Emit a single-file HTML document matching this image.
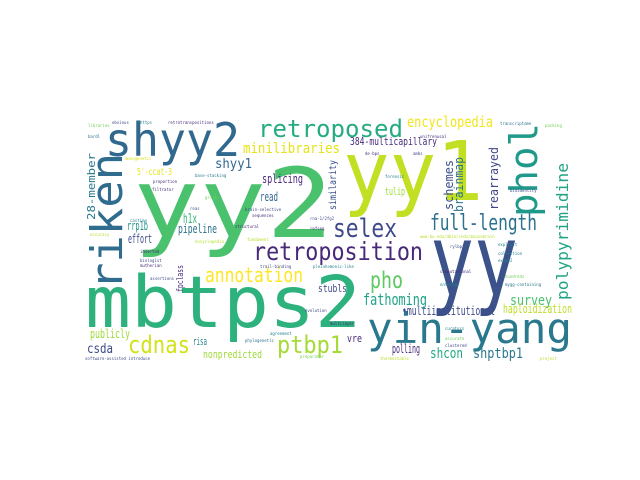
<!DOCTYPE html>
<html><head><meta charset="utf-8"><style>
html,body{margin:0;padding:0;background:#fff;width:640px;height:480px;overflow:hidden}
svg{display:block}
text{font-family:"DejaVu Sans Mono","Liberation Mono",monospace}
</style></head><body>
<svg width="640" height="480" viewBox="0 0 640 480" xmlns="http://www.w3.org/2000/svg">
<rect width="640" height="480" fill="#fff"/>
<g>
<text x="133" y="237" font-size="96" fill="#4ac16d" textLength="200" lengthAdjust="spacingAndGlyphs">yy2</text>
<text x="343" y="200" font-size="82" fill="#c2df23" textLength="140" lengthAdjust="spacingAndGlyphs">yy1</text>
<text x="430" y="295" font-size="100" fill="#3b528b" textLength="88" lengthAdjust="spacingAndGlyphs">yy</text>
<text x="85" y="327" font-size="71" fill="#2db27d" textLength="276" lengthAdjust="spacingAndGlyphs">mbtps2</text>
<text x="367" y="343" font-size="42" fill="#2a788e" textLength="205" lengthAdjust="spacingAndGlyphs">yin-yang</text>
<text x="105" y="156" font-size="46" fill="#31688e" textLength="135" lengthAdjust="spacingAndGlyphs">shyy2</text>
<text transform="translate(122,290) rotate(-90)" font-size="44" fill="#2f6c8e" textLength="137" lengthAdjust="spacingAndGlyphs">riken</text>
<text x="258" y="137" font-size="24" fill="#25ab82" textLength="145" lengthAdjust="spacingAndGlyphs">retroposed</text>
<text transform="translate(537,217) rotate(-90)" font-size="38" fill="#1f9a8a" textLength="94" lengthAdjust="spacingAndGlyphs">phol</text>
<text x="253" y="260" font-size="25" fill="#482878" textLength="170" lengthAdjust="spacingAndGlyphs">retroposition</text>
<text x="333" y="237" font-size="26" fill="#3e4a89" textLength="64" lengthAdjust="spacingAndGlyphs">selex</text>
<text x="430" y="230" font-size="22" fill="#2c728e" textLength="107" lengthAdjust="spacingAndGlyphs">full-length</text>
<text x="370" y="288" font-size="23" fill="#5ec962" textLength="33" lengthAdjust="spacingAndGlyphs">pho</text>
<text x="205" y="282" font-size="20" fill="#fde725" textLength="98" lengthAdjust="spacingAndGlyphs">annotation</text>
<text x="128" y="353" font-size="24" fill="#d2e21b" textLength="62" lengthAdjust="spacingAndGlyphs">cdnas</text>
<text x="277" y="353" font-size="24" fill="#a5db36" textLength="66" lengthAdjust="spacingAndGlyphs">ptbp1</text>
<text transform="translate(568,300) rotate(-90)" font-size="16" fill="#20a486" textLength="137" lengthAdjust="spacingAndGlyphs">polypyrimidine</text>
<text x="407" y="127" font-size="15" fill="#f1e51d" textLength="86" lengthAdjust="spacingAndGlyphs">encyclopedia</text>
<text x="350" y="145" font-size="11" fill="#472d7b" textLength="87" lengthAdjust="spacingAndGlyphs">384-multicapillary</text>
<text x="243" y="153" font-size="14" fill="#e5e419" textLength="97" lengthAdjust="spacingAndGlyphs">minilibraries</text>
<text transform="translate(453,210) rotate(-90)" font-size="12" fill="#3b528b" textLength="50" lengthAdjust="spacingAndGlyphs">schemes</text>
<text transform="translate(463,212) rotate(-90)" font-size="12" fill="#2c728e" textLength="55" lengthAdjust="spacingAndGlyphs">brainmap</text>
<text transform="translate(498,210) rotate(-90)" font-size="12" fill="#3f4788" textLength="63" lengthAdjust="spacingAndGlyphs">rearrayed</text>
<text x="215" y="168" font-size="13" fill="#31688e" textLength="37" lengthAdjust="spacingAndGlyphs">shyy1</text>
<text x="137" y="175" font-size="10" fill="#e7e419" textLength="35" lengthAdjust="spacingAndGlyphs">5'-ccat-3</text>
<text transform="translate(95,220) rotate(-90)" font-size="11" fill="#2a788e" textLength="67" lengthAdjust="spacingAndGlyphs">28-member</text>
<text x="262" y="183" font-size="12" fill="#482878" textLength="41" lengthAdjust="spacingAndGlyphs">splicing</text>
<text transform="translate(336,210) rotate(-90)" font-size="10" fill="#3b528b" textLength="50" lengthAdjust="spacingAndGlyphs">similarity</text>
<text x="260" y="201" font-size="12" fill="#31688e" textLength="18" lengthAdjust="spacingAndGlyphs">read</text>
<text x="183" y="223" font-size="13" fill="#35b779" textLength="14" lengthAdjust="spacingAndGlyphs">h1x</text>
<text x="178" y="233" font-size="12" fill="#2c728e" textLength="39" lengthAdjust="spacingAndGlyphs">pipeline</text>
<text x="127" y="230" font-size="12" fill="#21918c" textLength="21" lengthAdjust="spacingAndGlyphs">rrp1b</text>
<text x="128" y="243" font-size="12" fill="#3e4a89" textLength="24" lengthAdjust="spacingAndGlyphs">effort</text>
<text x="385" y="195" font-size="11" fill="#a0da39" textLength="20" lengthAdjust="spacingAndGlyphs">tulip</text>
<text x="402" y="315" font-size="12" fill="#3e4a89" textLength="93" lengthAdjust="spacingAndGlyphs">•multiinstitutional</text>
<text x="363" y="305" font-size="16" fill="#1fa187" textLength="64" lengthAdjust="spacingAndGlyphs">fathoming</text>
<text x="510" y="305" font-size="14" fill="#4ac16d" textLength="42" lengthAdjust="spacingAndGlyphs">survey</text>
<text x="503" y="313" font-size="12" fill="#bddf26" textLength="69" lengthAdjust="spacingAndGlyphs">haploidization</text>
<text x="430" y="358" font-size="14" fill="#22a884" textLength="33" lengthAdjust="spacingAndGlyphs">shcon</text>
<text x="473" y="358" font-size="14" fill="#2a788e" textLength="50" lengthAdjust="spacingAndGlyphs">shptbp1</text>
<text x="392" y="353" font-size="12" fill="#482878" textLength="28" lengthAdjust="spacingAndGlyphs">polling</text>
<text x="347" y="342" font-size="11" fill="#482878" textLength="15" lengthAdjust="spacingAndGlyphs">vre</text>
<text x="87" y="353" font-size="13" fill="#3e4a89" textLength="26" lengthAdjust="spacingAndGlyphs">csda</text>
<text x="90" y="338" font-size="12" fill="#a0da39" textLength="40" lengthAdjust="spacingAndGlyphs">publicly</text>
<text x="193" y="345" font-size="11" fill="#26828e" textLength="14" lengthAdjust="spacingAndGlyphs">risa</text>
<text x="203" y="358" font-size="11" fill="#a0da39" textLength="59" lengthAdjust="spacingAndGlyphs">nonpredicted</text>
<text x="318" y="292" font-size="11" fill="#3e4a89" textLength="29" lengthAdjust="spacingAndGlyphs">stubls</text>
<text transform="translate(183,292) rotate(-90)" font-size="9" fill="#472d7b" textLength="27" lengthAdjust="spacingAndGlyphs">fpclass</text>
</g>
<g font-size="4" fill="#6ece58">
<text x="88" y="127">libraries</text><text x="112" y="124" fill="#3e4a89">obvious</text><text x="140" y="124" fill="#26828e">https</text>
<text x="168" y="124" fill="#472d7b">retrotranspositions</text><text x="88" y="138" fill="#2c728e">bardl</text>
<text x="125" y="160" fill="#d8e219">monogenetic</text><text x="153" y="183" fill="#482878">proportion</text><text x="152" y="191" fill="#472d7b">filtrator</text>
<text x="195" y="177" fill="#2a788e">base-stacking</text><text x="205" y="199" fill="#6ece58">gradb</text><text x="190" y="210" fill="#3b528b">reas</text>
<text x="130" y="222" fill="#26828e">casting</text><text x="90" y="236" fill="#b5de2b">accuracy</text><text x="140" y="253" fill="#482878">inserted</text>
<text x="195" y="243" fill="#b5de2b">encyclopedia</text><text x="245" y="211" fill="#3e4a89">brain-selective</text><text x="252" y="217" fill="#472d7b">sequences</text>
<text x="310" y="220" fill="#3e4a89">rna-1/2fg2</text><text x="310" y="230" fill="#472d7b">refseq</text><text x="235" y="228" fill="#482878">structural</text>
<text x="247" y="241" fill="#b5de2b">fundament</text><text x="260" y="268" fill="#3e4a89">trail-binding</text><text x="313" y="268" fill="#26828e">pleiohomonic-like</text>
<text x="140" y="262" fill="#3e4a89">biologist</text><text x="140" y="267" fill="#472d7b">mutherian</text><text x="150" y="280" fill="#3e4a89">assertions</text>
<text x="330" y="325" fill="#482878">multilayer</text><text x="305" y="312" fill="#3e4a89">evolution</text><text x="270" y="335" fill="#26828e">agreement</text>
<text x="245" y="342" fill="#2c728e">phylogenetic</text><text x="300" y="358" fill="#6ece58">preparator</text><text x="85" y="360" fill="#3e4a89">software-assisted introduce</text>
<text x="420" y="238" fill="#b5de2b">www.bu.edu/dbin/cnds/mousebrain</text><text x="450" y="248" fill="#3e4a89">rylbp</text><text x="498" y="246" fill="#26828e">explicit</text>
<text x="498" y="255" fill="#2a788e">collection</text><text x="498" y="262" fill="#26828e">exome2</text><text x="440" y="273" fill="#472d7b">computational</text>
<text x="440" y="286" fill="#26828e">ontology</text><text x="505" y="286" fill="#2a788e">mygg-containing</text><text x="505" y="278" fill="#6ece58">hundreds</text>
<text x="445" y="330" fill="#26828e">curators</text><text x="445" y="340" fill="#6ece58">accurate</text><text x="445" y="347" fill="#3e4a89">clustered</text>
<text x="380" y="360" fill="#b5de2b">thermostable</text><text x="540" y="360" fill="#b5de2b">project</text><text x="545" y="127" fill="#6ece58">packing</text>
<text x="420" y="138" fill="#472d7b">unifrenusal</text><text x="500" y="125" fill="#2a788e">transcriptome</text><text x="413" y="155" fill="#3e4a89">ambs</text>
<text x="365" y="155" fill="#472d7b">de-bps</text><text x="385" y="178" fill="#26828e">forensic</text><text x="510" y="192" fill="#3e4a89">bioidentity</text>
</g>
</svg>
</body></html>
